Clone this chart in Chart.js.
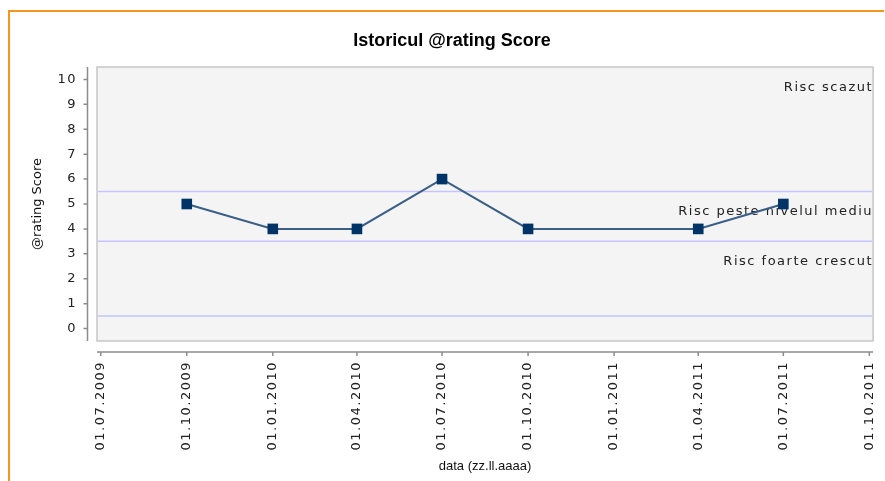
<!DOCTYPE html>
<html>
<head>
<meta charset="utf-8">
<script src="https://cdn.jsdelivr.net/npm/chart.js@4.4.1/dist/chart.umd.min.js"></script>
<style>
html, body { margin: 0; padding: 0; background: #fff; overflow: hidden; }
canvas { display: block; }
</style>
</head>
<body>
<canvas id="myChart" width="885" height="481"></canvas>
<script>
// Datele graficului
let dates = ['01.10.2009', '01.01.2010', '01.04.2010', '01.07.2010', '01.10.2010', '01.04.2011', '01.07.2011'];
let scores = [5, 4, 4, 6, 4, 4, 5];
let xTickLabels = ['01.07.2009', '01.10.2009', '01.01.2010', '01.04.2010', '01.07.2010',
                   '01.10.2010', '01.01.2011', '01.04.2011', '01.07.2011', '01.10.2011'];
let yTicks = [0, 1, 2, 3, 4, 5, 6, 7, 8, 9, 10];
let bandLines = [5.5, 3.5, 0.5];
let bandTops = [10.5, 5.5, 3.5];
let bandLabels = ['Risc scazut', 'Risc peste nivelul mediu', 'Risc foarte crescut'];

const DAY = 86400000;
function toMs(s) {
  let p = s.split('.');
  return Date.UTC(+p[2], +p[1] - 1, +p[0]);
}

// litere mai rare, ca in original
function spaceLabels(axis) {
  if (axis._spaced) return;
  let orig = axis.drawLabels;
  axis.drawLabels = function (area) {
    let c = this.ctx;
    c.save();
    c.letterSpacing = '1.5px';
    orig.call(this, area);
    c.restore();
  };
  axis._spaced = true;
}

// cadru, fundal, linii de prag, etichete, axe decalate
const plotDecor = {
  id: 'plotDecor',
  beforeDraw(chart) {
    let {ctx, width, height} = chart;
    ctx.save();
    ctx.strokeStyle = '#f7961e';
    ctx.lineWidth = 2;
    ctx.beginPath();
    ctx.moveTo(9, height);
    ctx.lineTo(9, 11);
    ctx.lineTo(width - 1, 11);
    ctx.stroke();
    ctx.restore();
  },
  beforeDatasetsDraw(chart) {
    let {ctx, chartArea: a, scales: {y}} = chart;
    ctx.save();
    ctx.fillStyle = '#f4f4f4';
    ctx.fillRect(a.left, a.top, a.right - a.left, a.bottom - a.top);
    ctx.strokeStyle = '#c6c6c6';
    ctx.lineWidth = 1.5;
    ctx.strokeRect(a.left, a.top, a.right - a.left, a.bottom - a.top);

    ctx.strokeStyle = '#c4c4ff';
    ctx.lineWidth = 1.5;
    bandLines.forEach(v => {
      let py = y.getPixelForValue(v);
      ctx.beginPath();
      ctx.moveTo(a.left + 1, py);
      ctx.lineTo(a.right - 1, py);
      ctx.stroke();
    });

    ctx.font = '13px "DejaVu Sans"';
    ctx.letterSpacing = '1.5px';
    ctx.fillStyle = '#222';
    ctx.textAlign = 'right';
    ctx.textBaseline = 'middle';
    bandLabels.forEach((t, i) => {
      ctx.fillText(t, a.right, y.getPixelForValue(bandTops[i]) + 20.5);
    });
    ctx.restore();
  },
  afterDraw(chart) {
    let {ctx, chartArea: a, scales: {x, y}} = chart;
    ctx.save();
    ctx.strokeStyle = '#8c8c8c';
    ctx.lineWidth = 1.5;
    let ax = a.left - 9.5;
    ctx.beginPath();
    ctx.moveTo(ax, a.top);
    ctx.lineTo(ax, a.bottom);
    yTicks.forEach(v => {
      let py = y.getPixelForValue(v);
      ctx.moveTo(ax - 4, py);
      ctx.lineTo(ax, py);
    });
    let ay = a.bottom + 11;
    ctx.moveTo(a.left, ay);
    ctx.lineTo(a.right, ay);
    xTickLabels.forEach(s => {
      let px = x.getPixelForValue(toMs(s));
      ctx.moveTo(px, ay);
      ctx.lineTo(px, ay + 4);
    });
    ctx.stroke();
    ctx.restore();
  }
};

let ctx = document.getElementById('myChart').getContext('2d');
let chart = new Chart(ctx, {
  type: 'line',
  data: {
    datasets: [{
      label: '@rating Score',
      data: dates.map((d, i) => ({x: toMs(d), y: scores[i]})),
      borderColor: '#3a5e86',
      borderWidth: 2,
      backgroundColor: '#003366',
      pointStyle: 'rect',
      pointRadius: 7.5,
      pointBackgroundColor: '#003366',
      pointBorderColor: '#003366',
      pointBorderWidth: 0,
      tension: 0
    }]
  },
  options: {
    responsive: false,
    animation: false,
    layout: {padding: {left: 28, right: 9, top: 0, bottom: 0}},
    plugins: {
      legend: {display: false},
      tooltip: {enabled: false},
      title: {
        display: true,
        text: 'Istoricul @rating Score',
        color: '#000',
        font: {family: '"Liberation Sans Narrow", "Liberation Sans", sans-serif', size: 18, weight: 'bold'},
        padding: {top: 30.2, bottom: 15.2}
      }
    },
    scales: {
      x: {
        type: 'linear',
        min: toMs(xTickLabels[0]) - 4 * DAY,
        max: toMs(xTickLabels[xTickLabels.length - 1]) + 4 * DAY,
        afterBuildTicks: axis => { axis.ticks = xTickLabels.map(s => ({value: toMs(s)})); },
        afterFit: axis => { axis.height = 140; },
        afterUpdate: spaceLabels,
        grid: {display: false, drawTicks: true, tickLength: 20},
        border: {display: false},
        ticks: {
          autoSkip: false,
          maxRotation: 90,
          minRotation: 90,
          padding: 0,
          color: '#222',
          font: {family: '"DejaVu Sans"', size: 13},
          callback: (v, i) => xTickLabels[i]
        },
        title: {
          display: true,
          text: 'data (zz.ll.aaaa)',
          color: '#111',
          font: {family: '"Liberation Sans Narrow", "Liberation Sans", sans-serif', size: 13},
          padding: {top: 0, bottom: 7}
        }
      },
      y: {
        min: -0.5,
        max: 10.5,
        afterBuildTicks: axis => { axis.ticks = yTicks.map(v => ({value: v})); },
        afterFit: axis => { axis.width = 69; },
        afterUpdate: spaceLabels,
        grid: {display: false, drawTicks: true, tickLength: 20},
        border: {display: false},
        ticks: {
          padding: 0,
          color: '#222',
          font: {family: '"DejaVu Sans"', size: 13},
          callback: v => String(v)
        },
        title: {
          display: true,
          text: '@rating Score',
          color: '#111',
          font: {family: '"DejaVu Sans"', size: 13},
          padding: {top: 2, bottom: 0}
        }
      }
    }
  },
  plugins: [plotDecor]
});
</script>
</body>
</html>
